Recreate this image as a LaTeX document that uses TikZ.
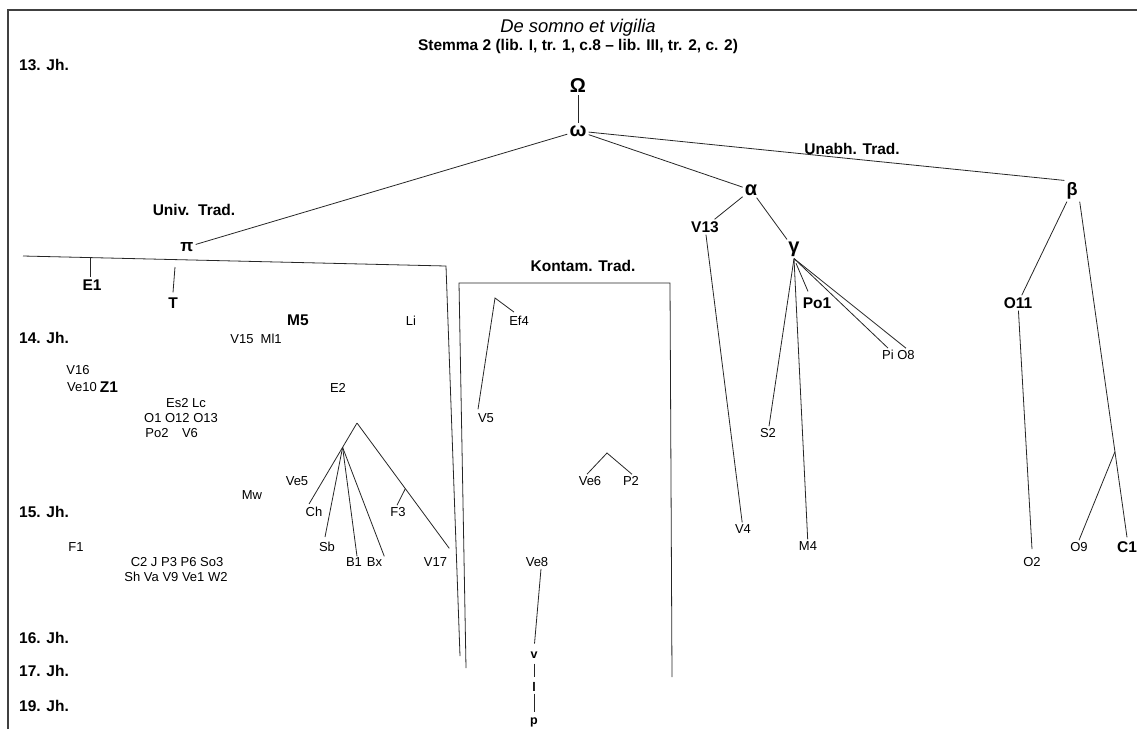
\documentclass[tikz,border=0pt]{standalone}
\usepackage{fontspec}
\setmainfont{Liberation Sans}
\usetikzlibrary{calc}
\begin{document}
\begin{tikzpicture}[x=1pt,y=-1pt,
  lab/.style={font=\fontsize{13}{15}\selectfont, inner sep=2pt},
  blab/.style={font=\fontsize{15.5}{18}\selectfont\bfseries, inner sep=2pt},
  jh/.style={font=\fontsize{15.5}{18}\selectfont\bfseries, anchor=west, inner sep=0pt},
  grk/.style={font=\fontsize{20}{24}\selectfont\bfseries, inner sep=2pt},
  edge/.style={draw=black!85, line width=0.8pt},
  frame/.style={draw=black!75, line width=1.4pt}]
\useasboundingbox (0,0) rectangle (1137,729);

% frame
\coordinate (fr1) at (8,729);
\coordinate (fr2) at (8,10);
\coordinate (fr3) at (1137,10);
\draw[frame] (fr1) -- (fr2) -- (fr3);

% title
\node[font=\fontsize{18.4}{22}\selectfont\itshape, inner sep=0pt] (title) at (578,28) {De somno et vigilia};
\node[blab, inner sep=0pt] (subtitle) at (578,46) {Stemma 2 (lib. I, tr. 1, c.8 – lib. III, tr. 2, c. 2)};

% centuries
\node[jh] (j13) at (19,65) {13. Jh.};
\node[jh] (j14) at (19,338) {14. Jh.};
\node[jh] (j15) at (19,512) {15. Jh.};
\node[jh] (j16) at (19,638) {16. Jh.};
\node[jh] (j17) at (19,671) {17. Jh.};
\node[jh] (j19) at (19,706) {19. Jh.};

% top of the stemma
\node[grk] (Om) at (578,86) {Ω};
\node[grk] (om) at (578,131) {ω};
\node[grk] (al) at (751,190) {α};
\node[grk, font=\fontsize{18}{22}\selectfont\bfseries] (be) at (1072,191) {β};
\node[grk] (ga) at (794,249) {γ};
\node[blab, font=\fontsize{17}{20}\selectfont\bfseries] (pi) at (187,247) {π};

\node[blab, inner sep=0pt] (univ) at (194,210) {Univ.~~Trad.};
\node[blab, inner sep=0pt] (unabh) at (852,149) {Unabh. Trad.};
\node[blab, inner sep=0pt] (kontam) at (583,266) {Kontam. Trad.};

\draw[edge] (Om) -- (om);
\draw[edge] (om) -- (pi);
\draw[edge] (om) -- (al);
\draw[edge] (om) -- (be.north west);

% alpha branch
\node[blab] (V13) at (705,227) {V13};
\node[lab] (V4) at (743,529) {V4};
\node[lab] (S2) at (768,433) {S2};
\node[lab] (M4) at (808,546) {M4};
\node[blab] (Po1) at (817,303) {Po1};
\node[lab] (Pi) at (888,355) {Pi};
\node[lab] (O8) at (906,355) {O8};

\draw[edge] (al) -- (V13);
\draw[edge] (al) -- (ga);
\draw[edge] (V13) -- (V4);
\draw[edge] (ga.south) -- (S2);
\draw[edge] (ga.south) -- (M4);
\draw[edge, shorten <=5pt] (ga.south) -- ([xshift=-9pt,yshift=4pt]Po1.north);
\draw[edge] (ga.south) -- (Pi.north);
\draw[edge] (ga.south) -- (O8.north);

% beta branch
\node[blab] (O11) at (1018,303) {O11};
\node[blab] (C1) at (1127,547) {C1};
\node[lab] (O2) at (1032,562) {O2};
\node[lab] (O9) at (1079,547) {O9};

\draw[edge] (be) -- (O11);
\draw[edge] (be.south east) -- coordinate[pos=0.745] (b9) ([yshift=2pt]C1.north);
\draw[edge] (b9) -- (O9.north);
\draw[edge] (O11) -- ([yshift=6pt]O2.north);

% university tradition
\coordinate (pb1) at (23,256);
\coordinate (pb2) at (446,266);
\coordinate (pb3) at (460,656);
\draw[edge] (pb1) -- coordinate[pos=0.16] (e1t) (pb2) -- (pb3);

\node[blab] (E1) at (92,285) {E1};
\node[blab] (T) at (173,303) {T};
\coordinate (tt) at (175,267);
\draw[edge] (e1t) -- (e1t |- E1.north);
\draw[edge] (tt) -- ([yshift=3pt]T.north);

\node[blab] (M5) at (298,320) {M5};
\node[lab] (Li) at (411,321) {Li};
\node[lab] (V15) at (256,339) {V15~~Ml1};
\node[lab] (V16) at (78,370) {V16};
\node[lab] (Ve10) at (82,387) {Ve10};
\node[blab] (Z1) at (109,387) {Z1};
\node[lab] (Es2) at (186,403) {Es2 Lc};
\node[lab] (O1) at (181,418) {O1 O12 O13};
\node[lab] (Po2) at (157,433) {Po2};
\node[lab] (V6) at (190,433) {V6};
\node[lab] (E2) at (338,388) {E2};
\node[lab] (Ve5) at (297,481) {Ve5};
\node[lab] (Mw) at (252,495) {Mw};
\node[lab] (Ch) at (314,512) {Ch};
\node[lab] (F3) at (398,512) {F3};
\node[lab] (Sb) at (327,547) {Sb};
\node[lab] (B1) at (354,562) {B1};
\node[lab] (Bx) at (374.5,562) {Bx};
\node[lab] (V17) at (435.5,562) {V17};
\node[lab] (F1) at (76,547) {F1};
\node[lab] (C2) at (177,562) {C2 J P3 P6 So3};
\node[lab] (Sh) at (176,577) {Sh Va V9 Ve1 W2};

\coordinate (a1) at (357,423);
\draw[edge] (a1) -- coordinate[pos=0.3] (a2) ([xshift=-5pt,yshift=1pt]Ch.north);
\draw[edge] (a1) -- coordinate[pos=0.524] (f3b) ([yshift=7pt]V17.north east);
\draw[edge] (f3b) -- ([xshift=-1pt]F3.north);
\draw[edge] (a2) -- ([xshift=-2pt,yshift=3pt]Sb.north);
\draw[edge] (a2) -- ([xshift=3pt,yshift=-1pt]B1.north);
\draw[edge] (a2) -- ([yshift=-1pt]Bx.north east);

% contaminated tradition
\coordinate (kb1) at (466,668);
\coordinate (kb2) at (459,283);
\coordinate (kb3) at (670,283);
\coordinate (kb4) at (672,677);
\draw[edge] (kb1) -- (kb2) -- (kb3) -- (kb4);

\node[lab] (Ef4) at (519,321) {Ef4};
\node[lab] (V5) at (486,418) {V5};
\coordinate (k1) at (495,298);
\draw[edge] ([xshift=-8pt,yshift=2pt]V5.north) -- (k1) -- ([xshift=-5pt,yshift=2pt]Ef4.north);

\node[lab] (Ve6) at (590,481) {Ve6};
\node[lab] (P2) at (631,481) {P2};
\coordinate (k2) at (607,453);
\draw[edge] ([xshift=-3pt]Ve6.north) -- (k2) -- ([xshift=1pt]P2.north);

\node[lab] (Ve8) at (537,562) {Ve8};
\node[lab, font=\fontsize{12.5}{15}\selectfont\bfseries] (v) at (534,655) {v};
\node[lab, font=\fontsize{12.5}{15}\selectfont\bfseries] (l) at (534,687) {l};
\node[lab, font=\fontsize{12.5}{15}\selectfont\bfseries] (p) at (534,722) {p};
\draw[edge, shorten >=6pt] ([xshift=4pt]Ve8.south) -- (v.north);
\draw[edge, shorten <=3pt, shorten >=3pt] (v) -- (l);
\draw[edge, shorten >=3pt] (l) -- (p);
\end{tikzpicture}
\end{document}
